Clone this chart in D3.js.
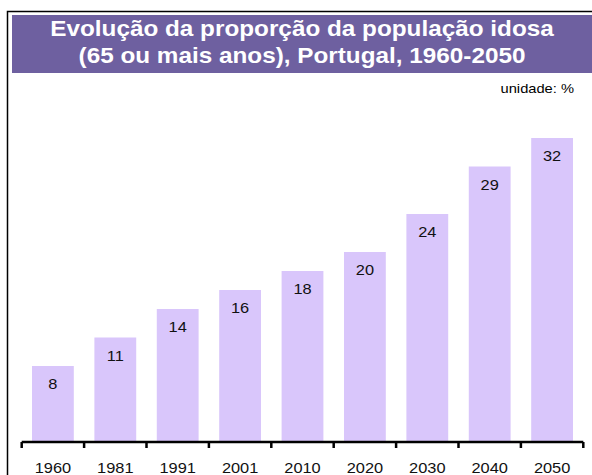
<!doctype html>
<html>
<head>
<meta charset="utf-8"/>
<title>Evolução da proporção da população idosa</title>
<script src="https://cdnjs.cloudflare.com/ajax/libs/d3/7.8.5/d3.min.js"></script>
<style>
  body { margin: 0; background: #fff; }
  svg { display: block; font-family: Arial, "Liberation Sans", sans-serif; }
</style>
</head>
<body>
<svg width="592" height="475"></svg>
<script>
var anos = ["1960", "1981", "1991", "2001", "2010", "2020", "2030", "2040", "2050"];
var valores = [8, 11, 14, 16, 18, 20, 24, 29, 32];
var titulo = ["Evolução da proporção da população idosa", "(65 ou mais anos), Portugal, 1960-2050"];
var unidade = "unidade: %";

var esticar = 1.13; // the original text is a bit wider than Arial

var svg = d3.select("svg");

// frame
svg.append("path")
  .attr("d", "M7.5,475 V11.5 H592")
  .attr("fill", "none")
  .attr("stroke", "#000")
  .attr("stroke-width", 1.5);

// title band
svg.append("rect")
  .attr("x", 12).attr("y", 15)
  .attr("width", 580).attr("height", 58)
  .attr("fill", "#6e60a0");

function texto(sel, x, y) {
  return sel.attr("transform", (d, i) => "translate(" + x(d, i) + "," + y(d, i) + ") scale(" + esticar + ",1)");
}

texto(svg.selectAll("text.titulo")
  .data(titulo)
  .enter().append("text")
  .attr("class", "titulo"), () => 302, (d, i) => 35.5 + i * 27.5)
  .attr("text-anchor", "middle")
  .attr("fill", "#fff")
  .style("font-size", "21.5px")
  .style("font-weight", "bold")
  .text(d => d);

texto(svg.selectAll("text.unidade")
  .data([unidade])
  .enter().append("text")
  .attr("class", "unidade"), () => 574, () => 93)
  .attr("text-anchor", "end")
  .style("font-size", "13px")
  .attr("fill", "#000")
  .text(d => d);

var xScale = d3.scaleBand().domain(anos).range([21.7, 583.3]).paddingInner(0.33).paddingOuter(0.165);
var yScale = d3.scaleLinear().domain([0, 32]).range([442, 138]);

svg.selectAll("rect.bar")
  .data(valores)
  .enter().append("rect")
  .attr("class", "bar")
  .attr("x", (d, i) => xScale(anos[i]))
  .attr("y", d => yScale(d))
  .attr("width", xScale.bandwidth())
  .attr("height", d => yScale(0) - yScale(d))
  .attr("fill", "#d9c6fb");

texto(svg.selectAll("text.valor")
  .data(valores)
  .enter().append("text")
  .attr("class", "valor"), (d, i) => xScale(anos[i]) + xScale.bandwidth() / 2, d => yScale(d) + 23)
  .attr("text-anchor", "middle")
  .style("font-size", "14.5px")
  .attr("fill", "#111")
  .text(d => d);

// axis with ticks at band edges
var eixo = svg.append("g");
eixo.append("line")
  .attr("x1", 21.7).attr("x2", 583.3)
  .attr("y1", 442).attr("y2", 442)
  .attr("stroke", "#000").attr("stroke-width", 2.5);

var bordas = anos.map((a, i) => xScale.range()[0] + xScale.step() * i).concat([xScale.range()[1]]);
eixo.selectAll("line.tick")
  .data(bordas)
  .enter().append("line")
  .attr("class", "tick")
  .attr("x1", d => d).attr("x2", d => d)
  .attr("y1", 442).attr("y2", 448)
  .attr("stroke", "#000").attr("stroke-width", 2.5);

texto(eixo.selectAll("text.ano")
  .data(anos)
  .enter().append("text")
  .attr("class", "ano"), d => xScale(d) + xScale.bandwidth() / 2, () => 473)
  .attr("text-anchor", "middle")
  .style("font-size", "14.5px")
  .attr("fill", "#111")
  .text(d => d);
</script>
</body>
</html>
